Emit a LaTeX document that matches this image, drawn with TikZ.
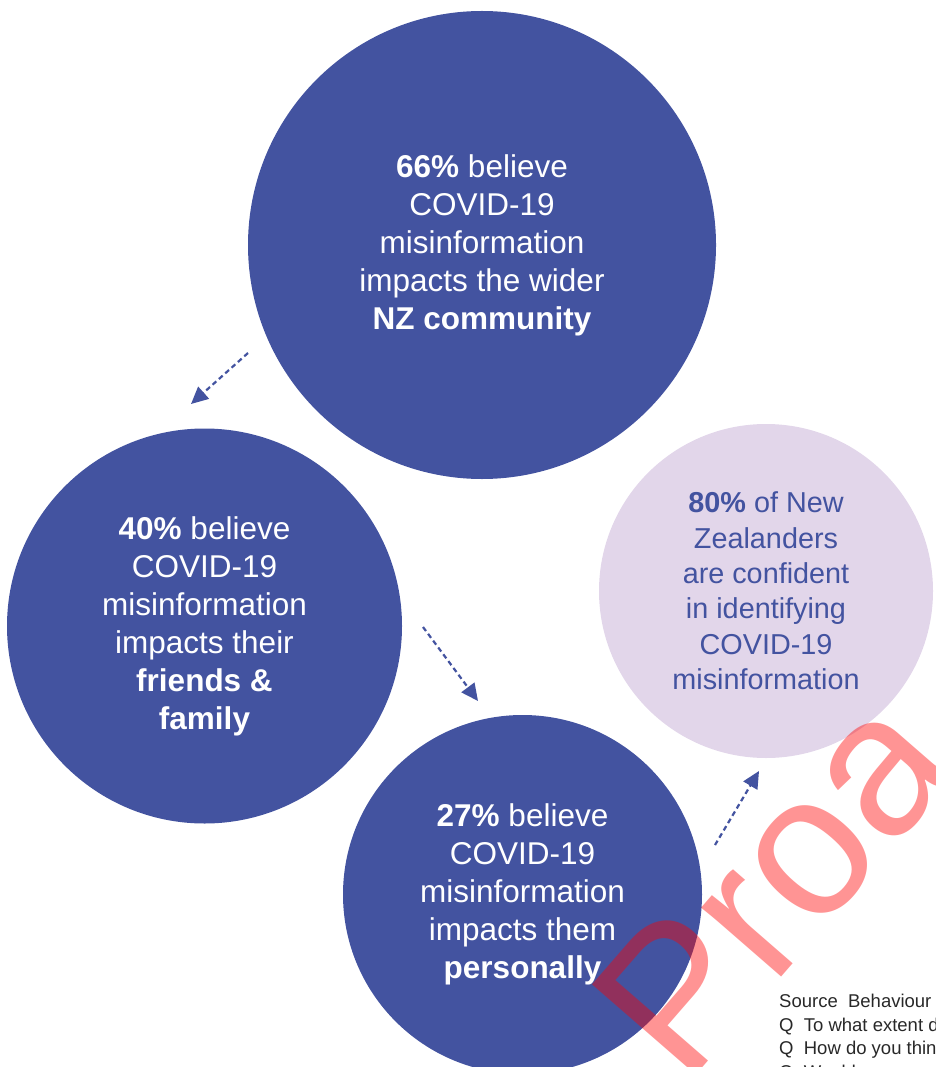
\documentclass[tikz,border=0pt]{standalone}
\usepackage{fontspec}
\setmainfont{Liberation Sans}
\usepackage{tikz}
\usetikzlibrary{arrows.meta,shapes}
\definecolor{nzblue}{RGB}{67,83,160}
\definecolor{nzlilac}{RGB}{226,214,234}
\definecolor{srcgrey}{RGB}{40,40,40}

\begin{document}
\begin{tikzpicture}[x=1pt,y=-1pt,
    bubble/.style={circle,fill=nzblue,text=white,align=center,inner sep=0pt,
      font=\fontsize{31.5}{38}\selectfont},
    softbubble/.style={circle,fill=nzlilac,text=nzblue,align=center,inner sep=0pt,
      font=\fontsize{28.8}{35.4}\selectfont},
    flow/.style={nzblue,line width=2.2pt,dash pattern=on 5pt off 3.5pt,
      -{Triangle[length=17pt,width=16pt]}}]
    \useasboundingbox (0,0) rectangle (935,1067);
    \clip (0,0) rectangle (935,1067);

    % the three blue circles and the lilac one
    \node[bubble,minimum size=468pt] (community) at (482,245)
      {\textbf{66\%} believe\\COVID-19\\misinformation\\impacts the wider\\\textbf{NZ community}};
    \node[bubble,minimum size=395pt] (family) at (204.5,626)
      {\textbf{40\%} believe\\COVID-19\\misinformation\\impacts their\\\textbf{friends \&}\\\textbf{family}};
    \node[bubble,minimum size=359pt] (personal) at (522.5,894.5)
      {\textbf{27\%} believe\\COVID-19\\misinformation\\impacts them\\\textbf{personally}};
    \node[softbubble,minimum size=334pt] (confident) at (766,591)
      {\textbf{80\%} of New\\Zealanders\\are confident\\in identifying\\COVID-19\\misinformation};

    % dashed arrows between the circles
    \coordinate (c1a) at (248,353);
    \coordinate (c1b) at (191,404);
    \coordinate (c2a) at (423,627);
    \coordinate (c2b) at (478,701);
    \coordinate (c3a) at (715,845);
    \coordinate (c3b) at (759,771);
    \draw[flow] (c1a) -- (c1b);
    \draw[flow] (c2a) -- (c2b);
    \draw[flow] (c3a) -- (c3b);

    % source notes, cut off at the edge
    \node[anchor=north west,inner sep=0pt,align=left,text=srcgrey,
      font=\fontsize{18.5}{23.5}\selectfont] (source) at (779,994)
      {Source\ \ Behaviour\\Q\ \ To what extent do\\Q\ \ How do you think\\Q\ \ Would you say};

    % watermark
    \node[anchor=base west,inner sep=0pt,rotate=49,text=red,text opacity=0.42,
      font=\fontsize{200}{200}\selectfont] (stamp) at (685,1088) {Proa};
\end{tikzpicture}
\end{document}
